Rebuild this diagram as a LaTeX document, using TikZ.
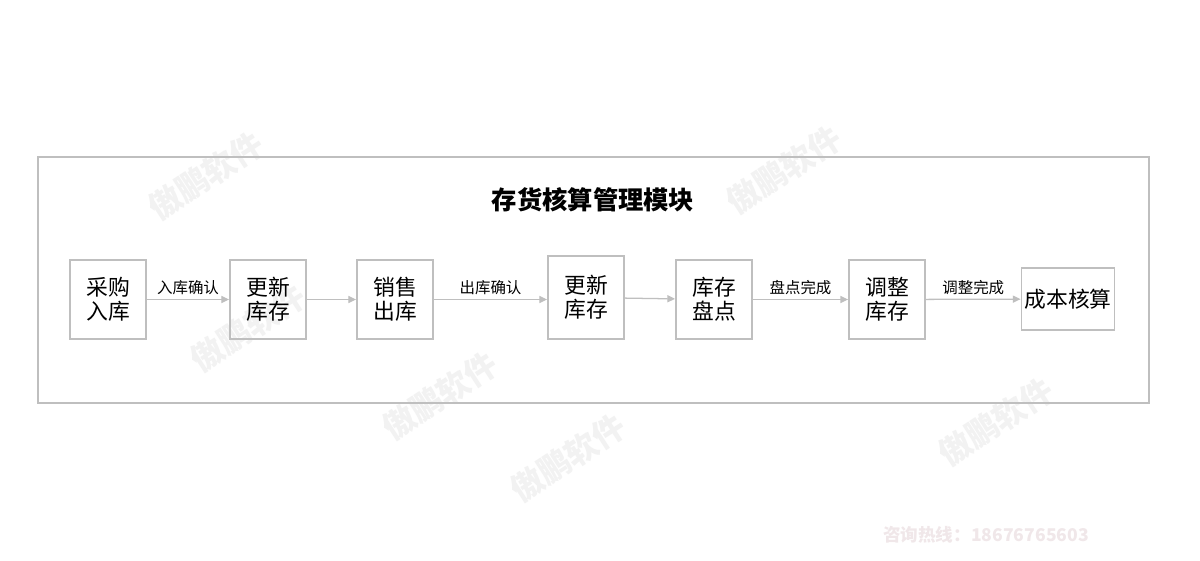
\documentclass[tikz,border=0pt]{standalone}
\usepackage{fontspec}
\setmainfont{Noto Sans CJK SC}
\usepackage{tikz}
\usetikzlibrary{arrows.meta,positioning}
\definecolor{FlowGray}  {HTML}{BFBFBF}
\definecolor{FlowText}  {HTML}{000000}
\definecolor{MarkGray}  {HTML}{F2F2F2}
\definecolor{MarkPink}  {HTML}{F0E7E9}

\tikzset{
  stepbox/.style={draw=FlowGray,line width=1.3pt,minimum width=1.9cm,
    minimum height=1.975cm,align=center,text=FlowText,
    font=\fontsize{15.5}{17}\selectfont,inner sep=2pt},
  flowline/.style={draw=FlowGray,line width=0.9pt,-{Triangle[length=5.5pt,width=5pt]}},
  flowlabel/.style={font=\fontsize{11}{13}\selectfont,text=FlowText,above,inner sep=3pt},
  watermark/.style={font=\fontsize{23}{26}\selectfont\bfseries,text=MarkGray,rotate=33}
}

\begin{document}
\begin{tikzpicture}
    \useasboundingbox[fill=white] (0,0) rectangle (30,14);

    % Watermarks
    \node[watermark] (wm1) at (5.15,9.6){傲鹏软件};
    \node[watermark] (wm2) at (6.2,5.8){傲鹏软件};
    \node[watermark] (wm3) at (19.6,9.75){傲鹏软件};
    \node[watermark] (wm4) at (11.0,4.1){傲鹏软件};
    \node[watermark] (wm5) at (14.2,2.55){傲鹏软件};
    \node[watermark] (wm6) at (24.9,3.45){傲鹏软件};
    \node[font=\fontsize{12.5}{14}\selectfont\bfseries,text=MarkPink] (hotline)
      at (24.65,0.63){咨询热线：18676765603};

    % Module frame and title
    \draw[FlowGray,line width=1.1pt] (0.95,3.925) rectangle (28.725,10.075);
    \node[font=\fontsize{18}{20}\selectfont\bfseries,text=FlowText] (title)
      at (14.825,9.0){存货核算管理模块};

    % Process steps
    \node[stepbox] (purchase) at (2.7,6.5125){采购\\入库};
    \node[stepbox] (update1)  at (6.7,6.5125){更新\\库存};
    \node[stepbox] (sales)    at (9.875,6.5125){销售\\出库};
    \node[stepbox,minimum height=2.075cm] (update2) at (14.65,6.5625){更新\\库存};
    \node[stepbox] (count)    at (17.85,6.5125){库存\\盘点};
    \node[stepbox] (adjust)   at (22.175,6.5125){调整\\库存};
    \node[stepbox,minimum width=2.325cm,minimum height=1.55cm] (costing)
      at (26.7,6.525){成本核算};

    % Connectors
    \draw[flowline] (purchase) -- node[flowlabel]{入库确认} (update1);
    \draw[flowline] (update1) -- (sales);
    \draw[flowline] (sales) -- node[flowlabel]{出库确认} (update2.west |- sales);
    \draw[flowline] (update2) -- (count);
    \draw[flowline] (count) -- node[flowlabel]{盘点完成} (adjust);
    \draw[flowline] (adjust) -- node[flowlabel]{调整完成} (costing);
  \end{tikzpicture}
\end{document}
